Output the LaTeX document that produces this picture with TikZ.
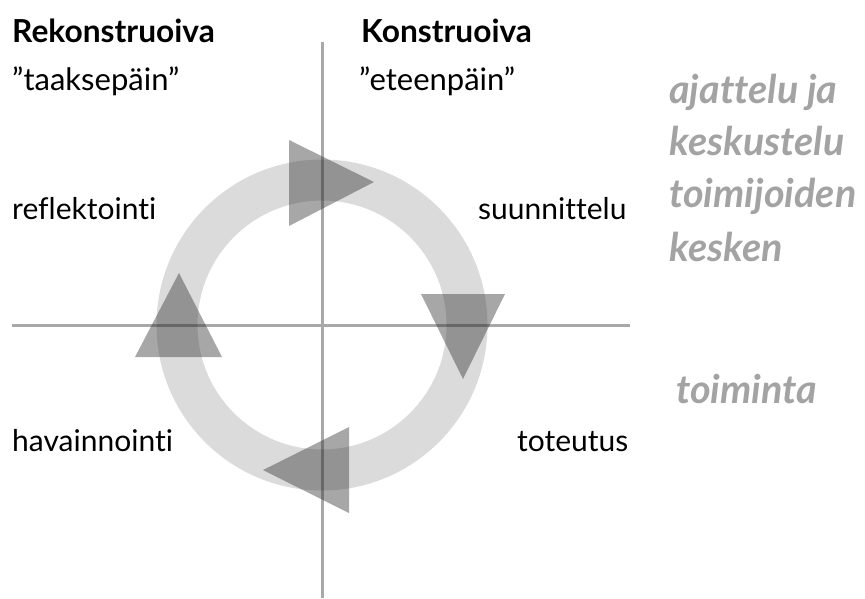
\documentclass[tikz,border=0pt]{standalone}
\usepackage{fontspec}
\setmainfont{Lato}[Ligatures={NoCommon}]
\begin{document}
\begin{tikzpicture}[x=1pt,y=-1pt,
  axis/.style={draw=black!34, line width=3pt},
  ringstyle/.style={draw=black, draw opacity=0.14, line width=41pt},
  tri/.style={fill=black!80, fill opacity=0.43},
  head/.style={anchor=base west, inner sep=0pt, font=\bfseries\fontsize{31.7}{36}\selectfont},
  sub/.style={anchor=base west, inner sep=0pt, font=\fontsize{31}{34}\selectfont},
  lab/.style={anchor=base west, inner sep=0pt, font=\fontsize{30}{34}\selectfont},
  note/.style={anchor=base west, inner sep=0pt, text=black!36, font=\bfseries\itshape\fontsize{39.5}{44}\selectfont}]
\useasboundingbox (0,0) rectangle (865,598);
% axes
\coordinate (vt) at (322,42);
\coordinate (vb) at (322,598);
\coordinate (hl) at (12,325);
\coordinate (hr) at (630,325);
\draw[axis] (vt) -- (vb);
\draw[axis] (hl) -- (hr);
% ring
\coordinate (c) at (322,325);
\draw[ringstyle] (c) circle (145);
% triangles
\fill[tri] (289,140) -- (289,226) -- (374,182) -- cycle;
\fill[tri] (421,294) -- (505,294) -- (463,379) -- cycle;
\fill[tri] (349,427) -- (349,513) -- (263,470) -- cycle;
\fill[tri] (179,273) -- (135,357) -- (222,357) -- cycle;
% texts
\node[head] (rek) at (12,42) {Rekonstruoiva};
\node[sub] (taak) at (12,90.5) {”taaksepäin”};
\node[head] (kon) at (361,42) {Konstruoiva};
\node[sub] (etee) at (359,90.5) {”eteenpäin”};
\node[lab] (refl) at (12,219.5) {reflektointi};
\node[lab] (suun) at (478,219.5) {suunnittelu};
\node[lab] (hava) at (12,451.5) {havainnointi};
\node[lab] (tote) at (517,451.5) {toteutus};
\node[note] (n1) at (669,103.5) {ajattelu ja};
\node[note] (n2) at (669,155) {keskustelu};
\node[note] (n3) at (669,207) {toimijoiden};
\node[note] (n4) at (669,261.5) {kesken};
\node[note] (n5) at (676,403.5) {toiminta};
\end{tikzpicture}
\end{document}
